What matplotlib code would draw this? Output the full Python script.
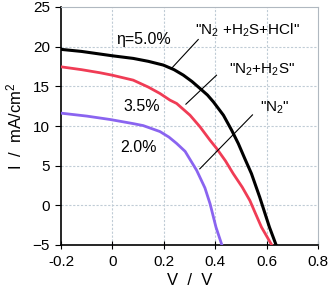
import matplotlib
matplotlib.use("Agg")
import matplotlib.pyplot as plt

plt.rcParams['font.family'] = ['Liberation Sans', 'DejaVu Sans']
plt.rcParams['mathtext.fontset'] = 'custom'
plt.rcParams['mathtext.rm'] = 'Liberation Sans'
plt.rcParams['mathtext.it'] = 'Liberation Sans'

# Data
v_hcl = [-0.2, -0.12, -0.048, 0.0, 0.081, 0.14, 0.198, 0.24, 0.276, 0.31, 0.341, 0.37,
         0.393, 0.432, 0.464, 0.49, 0.515, 0.541, 0.573, 0.611, 0.637]
i_hcl = [19.66, 19.4, 19.07, 18.85, 18.52, 18.15, 17.68, 17.1, 16.41, 15.6, 14.73, 13.9,
         13.04, 11.36, 9.47, 7.78, 5.9, 4.0, 1.05, -2.75, -5.0]

v_h2s = [-0.2, -0.12, -0.048, 0.0, 0.081, 0.14, 0.185, 0.224, 0.25, 0.302, 0.341, 0.38,
         0.406, 0.44, 0.47, 0.505, 0.535, 0.555, 0.58, 0.62]
i_h2s = [17.46, 17.1, 16.71, 16.4, 15.78, 14.9, 14.1, 13.26, 12.84, 11.36, 9.89, 8.2,
         7.15, 5.6, 4.0, 2.3, 0.6, -0.9, -2.75, -5.0]

v_n2 = [-0.2, -0.1, -0.009, 0.081, 0.12, 0.185, 0.22, 0.25, 0.283, 0.328, 0.36, 0.38,
        0.403, 0.426]
i_n2 = [11.62, 11.25, 10.82, 10.3, 10.05, 9.3, 8.6, 7.8, 6.8, 4.4, 2.2, 0.2,
        -2.75, -5.0]

xticks = [-0.2, 0, 0.2, 0.4, 0.6, 0.8]
xticklabels = ['-0.2', '0', '0.2', '0.4', '0.6', '0.8']
yticks = [-5, 0, 5, 10, 15, 20, 25]

fig = plt.figure(figsize=(3.31, 2.95), dpi=100)
ax = fig.add_axes([61/331, 1-245/295, (318-61)/331, (245-7)/295])

grid_c = '#c0ccd6'
for x in xticks[1:-1]:
    ax.axvline(x, color=grid_c, lw=0.8, ls=(0, (2, 1.5)), zorder=0)
for y in yticks[1:-1]:
    ax.axhline(y, color=grid_c, lw=0.8, ls=(0, (2, 1.5)), zorder=0)

ax.plot(v_n2, i_n2, color='#8a64f0', lw=2.0, zorder=3, solid_joinstyle='round')
ax.plot(v_h2s, i_h2s, color='#f03c55', lw=2.0, zorder=3, solid_joinstyle='round')
ax.plot(v_hcl, i_hcl, color='black', lw=2.2, zorder=4, solid_joinstyle='round')

ax.set_xlim(-0.2, 0.8)
ax.set_ylim(-5, 25)
ax.set_xticks(xticks)
ax.set_xticklabels(xticklabels)
ax.set_yticks(yticks)
ax.tick_params(axis='x', direction='inout', length=6, labelsize=11, pad=4)
ax.tick_params(axis='y', direction='out', length=4, labelsize=11, pad=4)

for s in ['top', 'right']:
    ax.spines[s].set_color('#b0b8c0')
    ax.spines[s].set_linewidth(0.8)
for s in ['left', 'bottom']:
    ax.spines[s].set_color('black')
    ax.spines[s].set_linewidth(1.2)

ax.set_xlabel('V  /  V', fontsize=12, labelpad=3)
ax.set_ylabel('I  /  mA/cm$^2$', fontsize=12, labelpad=6)

fs = 11.5
ax.text(0.12, 20.9, 'η=5.0%', fontsize=fs, ha='center', va='center')
ax.text(0.527, 22.1, '"N$_2$ +H$_2$S+HCl"', fontsize=11, ha='center', va='center')
ax.plot([0.334, 0.23], [20.9, 17.26], color='black', lw=0.8, zorder=5)
ax.text(0.113, 12.5, '3.5%', fontsize=fs, ha='center', va='center')
ax.text(0.583, 17.05, '"N$_2$+H$_2$S"', fontsize=11, ha='center', va='center')
ax.plot([0.405, 0.286], [16.4, 12.75], color='black', lw=0.8, zorder=5)
ax.text(0.1, 7.3, '2.0%', fontsize=fs, ha='center', va='center')
ax.text(0.633, 12.25, '"N$_2$"', fontsize=11, ha='center', va='center')
ax.plot([0.545, 0.34], [11.4, 4.6], color='black', lw=0.8, zorder=5)

fig.savefig('out.png', dpi=100)
